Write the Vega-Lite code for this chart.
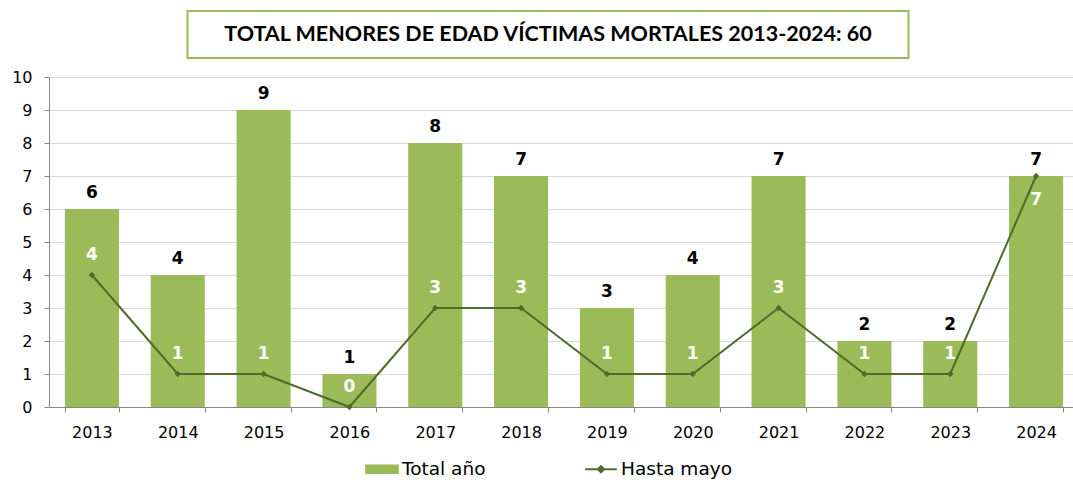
{
  "$schema": "https://vega.github.io/schema/vega-lite/v6.json",
  "padding": {"left": 11, "top": 10, "right": 0, "bottom": 0},
  "config": {"view": {"stroke": null}, "font": "DejaVu Sans"},
  "spacing": 10,
  "center": true,
  "datasets": {
    "rows": [
      {"anio": "2013", "total": 6, "hasta": 4},
      {"anio": "2014", "total": 4, "hasta": 1},
      {"anio": "2015", "total": 9, "hasta": 1},
      {"anio": "2016", "total": 1, "hasta": 0},
      {"anio": "2017", "total": 8, "hasta": 3},
      {"anio": "2018", "total": 7, "hasta": 3},
      {"anio": "2019", "total": 3, "hasta": 1},
      {"anio": "2020", "total": 4, "hasta": 1},
      {"anio": "2021", "total": 7, "hasta": 3},
      {"anio": "2022", "total": 2, "hasta": 1},
      {"anio": "2023", "total": 2, "hasta": 1},
      {"anio": "2024", "total": 7, "hasta": 7}
    ],
    "titulo": [{"t": "TOTAL MENORES DE EDAD VÍCTIMAS MORTALES 2013-2024: 60"}],
    "vacio": [{"t": ""}]
  },
  "vconcat": [
    {
      "spacing": 0,
      "hconcat": [
        {
          "width": 721,
          "height": 47,
          "data": {"name": "titulo"},
          "view": {"stroke": "#9bbb59", "strokeWidth": 2},
          "mark": {"type": "text", "font": "Lato", "fontWeight": "bold", "fontSize": 21.5, "color": "#000000", "baseline": "middle", "align": "center"},
          "encoding": {"text": {"field": "t"}}
        },
        {
          "width": 31,
          "height": 47,
          "data": {"name": "vacio"},
          "mark": {"type": "text"},
          "encoding": {"text": {"field": "t"}}
        }
      ]
    },
    {
      "width": 1030,
      "height": 330,
      "data": {"name": "rows"},
      "encoding": {
        "x": {
          "field": "anio", "type": "ordinal", "title": null,
          "scale": {"paddingInner": 0.37, "paddingOuter": 0.185},
          "axis": {"labelAngle": 0, "tickBand": "extent", "domainColor": "#868686", "tickColor": "#868686", "tickSize": 5, "labelPadding": 12, "labelFontSize": 16, "labelColor": "#000000", "labelFont": "DejaVu Sans"}
        },
        "y": {"field": "total", "type": "quantitative", "title": null,
          "scale": {"domain": [0, 10], "nice": false},
          "axis": {"values": [0,1,2,3,4,5,6,7,8,9,10], "labelOverlap": false, "gridColor": "#d9d9d9", "domainColor": "#868686", "tickColor": "#868686", "tickSize": 5, "labelPadding": 12, "labelFontSize": 16, "labelColor": "#000000", "labelFont": "DejaVu Sans"}}
      },
      "layer": [
        {
          "mark": {"type": "bar", "color": "#9bbb59"},
          "encoding": {
            "color": {"datum": "Total año", "type": "nominal",
              "scale": {"domain": ["Total año", "Hasta mayo"], "range": ["#9bbb59", "#4f6b2a"]},
              "legend": {
                "title": null, "orient": "none", "direction": "horizontal", "legendX": 316, "legendY": 441,
                "columns": 2, "columnPadding": 95, "symbolSize": 1000, "labelFontSize": 18.5, "labelFont": "DejaVu Sans", "labelColor": "#000000", "labelOffset": 3,
                "encode": {"symbols": {"update": {
                  "shape": {"signal": "datum.value === 'Total año' ? 'M-1,-0.23H1V0.23H-1Z' : 'M-1,0H1M0,-0.2L0.2,0L0,0.2L-0.2,0Z'"},
                  "fill": {"signal": "datum.value === 'Total año' ? '#9bbb59' : '#4f6b2a'"},
                  "stroke": {"signal": "datum.value === 'Total año' ? 'transparent' : '#4f6b2a'"},
                  "strokeWidth": {"value": 2},
                  "opacity": {"value": 1}
                }}}
              }}
          }
        },
        {
          "mark": {"type": "text", "dy": -16, "fontWeight": "bold", "fontSize": 17, "color": "#000000", "font": "DejaVu Sans"},
          "encoding": {"text": {"field": "total"}}
        },
        {
          "mark": {"type": "line", "strokeWidth": 2, "point": {"shape": "diamond", "filled": true, "size": 40, "color": "#4f6b2a"}},
          "encoding": {
            "y": {"field": "hasta", "type": "quantitative"},
            "color": {"datum": "Hasta mayo", "type": "nominal"}
          }
        },
        {
          "transform": [{"filter": "datum.anio !== '2024'"}],
          "mark": {"type": "text", "dy": -20, "fontWeight": "bold", "fontSize": 17, "color": "#ffffff", "font": "DejaVu Sans"},
          "encoding": {"y": {"field": "hasta", "type": "quantitative"}, "text": {"field": "hasta"}}
        },
        {
          "transform": [{"filter": "datum.anio === '2024'"}],
          "mark": {"type": "text", "dy": 24, "fontWeight": "bold", "fontSize": 17, "color": "#ffffff", "font": "DejaVu Sans"},
          "encoding": {"y": {"field": "hasta", "type": "quantitative"}, "text": {"field": "hasta"}}
        }
      ]
    }
  ]
}
